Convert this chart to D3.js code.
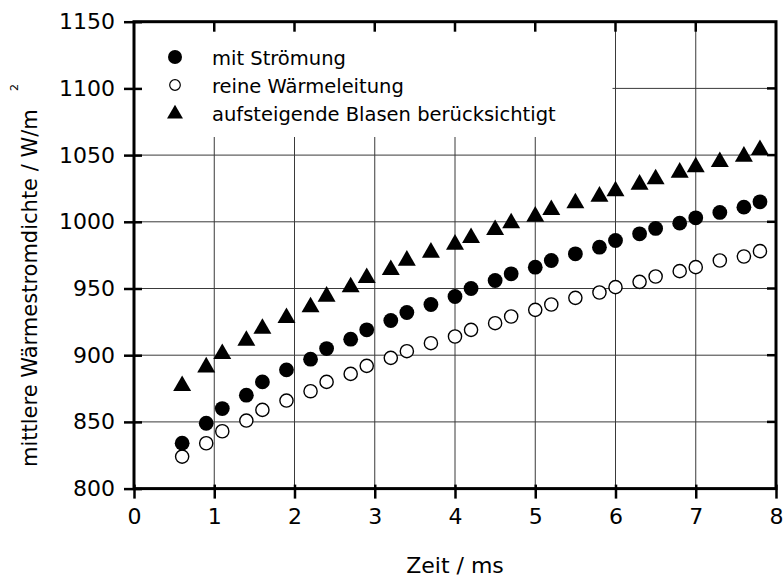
<!DOCTYPE html>
<html>
<head>
<meta charset="utf-8">
<script src="https://cdn.jsdelivr.net/npm/d3@7"></script>
<style>
  body { margin: 0; background: #fff; }
  text { font-family: "DejaVu Sans", Arial, sans-serif; fill: #000; }
</style>
</head>
<body>
<script>
// Werte
var zeit = [0.6, 0.9, 1.1, 1.4, 1.6, 1.9, 2.2, 2.4, 2.7, 2.9, 3.2, 3.4, 3.7, 4.0, 4.2, 4.5, 4.7, 5.0, 5.2, 5.5, 5.8, 6.0, 6.3, 6.5, 6.8, 7.0, 7.3, 7.6, 7.8];
var mitStroemung = [834, 849, 860, 870, 880, 889, 897, 905, 912, 919, 926, 932, 938, 944, 950, 956, 961, 966, 971, 976, 981, 986, 991, 995, 999, 1003, 1007, 1011, 1015];
var reineLeitung = [824, 834, 843, 851, 859, 866, 873, 880, 886, 892, 898, 903, 909, 914, 919, 924, 929, 934, 938, 943, 947, 951, 955, 959, 963, 966, 971, 974, 978];
var blasen = [877, 891, 901, 911, 920, 928, 936, 944, 951, 958, 964, 971, 977, 983, 988, 994, 999, 1004, 1009, 1014, 1019, 1023, 1028, 1032, 1037, 1041, 1045, 1049, 1054];

var seriesNames = ["mit Strömung", "reine Wärmeleitung", "aufsteigende Blasen berücksichtigt"];
var xTicks = [0, 1, 2, 3, 4, 5, 6, 7, 8];
var yTicks = [800, 850, 900, 950, 1000, 1050, 1100, 1150];

var width = 784, height = 578;
// "top" is taken by window.top, so plot edges get their own names
var plotLeft = 134, plotRight = 776, plotTop = 21.7, plotBottom = 488.6;

var x = d3.scaleLinear().domain([0, 8]).range([plotLeft, plotRight]);
var y = d3.scaleLinear().domain([800, 1150]).range([plotBottom, plotTop]);

var svg = d3.select("body").append("svg")
    .attr("width", width)
    .attr("height", height);

// grid
var grid = svg.append("g").attr("class", "grid")
    .attr("stroke", "#3a3a3a")
    .attr("stroke-width", 1);
grid.selectAll("line.v")
    .data(xTicks.slice(1, -1))
    .enter().append("line")
    .attr("class", "v")
    .attr("x1", function(d){return x(d);})
    .attr("x2", function(d){return x(d);})
    .attr("y1", plotTop)
    .attr("y2", plotBottom);
grid.selectAll("line.h")
    .data(yTicks.slice(1, -1))
    .enter().append("line")
    .attr("class", "h")
    .attr("x1", plotLeft)
    .attr("x2", plotRight)
    .attr("y1", function(d){return y(d);})
    .attr("y2", function(d){return y(d);});

// legend background hides the grid behind it
svg.append("rect")
    .attr("x", plotLeft + 1)
    .attr("y", plotTop + 1)
    .attr("width", x(6) - 3 - plotLeft - 1)
    .attr("height", 137 - plotTop - 1)
    .attr("fill", "#fff");

// data points
var triangle = d3.symbol().type(d3.symbolTriangle).size(140);

var pts1 = zeit.map(function(t, i){return [t, mitStroemung[i]];});
var pts2 = zeit.map(function(t, i){return [t, reineLeitung[i]];});
var pts3 = zeit.map(function(t, i){return [t, blasen[i]];});

svg.append("g").selectAll("circle")
    .data(pts2)
    .enter().append("circle")
    .attr("cx", function(d){return x(d[0]);})
    .attr("cy", function(d){return y(d[1]);})
    .attr("r", 6.6)
    .attr("fill", "#fff")
    .attr("stroke", "#000")
    .attr("stroke-width", 1.4);

svg.append("g").selectAll("circle")
    .data(pts1)
    .enter().append("circle")
    .attr("cx", function(d){return x(d[0]);})
    .attr("cy", function(d){return y(d[1]);})
    .attr("r", 7.4)
    .attr("fill", "#000");

svg.append("g").selectAll("path")
    .data(pts3)
    .enter().append("path")
    .attr("d", triangle)
    .attr("transform", function(d){return "translate(" + x(d[0]) + "," + y(d[1]) + ")";})
    .attr("fill", "#000");

// axes
var xAxis = d3.axisBottom(x).tickValues(xTicks).tickSize(10).tickPadding(10).tickFormat(d3.format("d"));
var yAxis = d3.axisLeft(y).tickValues(yTicks).tickSize(10).tickPadding(9).tickFormat(d3.format("d"));

var gx = svg.append("g")
    .attr("transform", "translate(0," + plotBottom + ")")
    .call(xAxis);
gx.selectAll(".tick line").attr("y1", -4).attr("stroke-width", 2.5);

var gy = svg.append("g")
    .attr("transform", "translate(" + plotLeft + ",0)")
    .call(yAxis);
gy.selectAll(".tick line").attr("x1", 8).attr("stroke-width", 2.5);

svg.selectAll(".domain").remove();
svg.selectAll(".tick text")
    .style("font-family", "DejaVu Sans, Arial, sans-serif")
    .style("font-size", "22px")
    .attr("fill", "#000");

// inner ticks on top and right
svg.append("g").selectAll("line")
    .data(xTicks.slice(1, -1))
    .enter().append("line")
    .attr("x1", function(d){return x(d);})
    .attr("x2", function(d){return x(d);})
    .attr("y1", plotTop)
    .attr("y2", plotTop + 10)
    .attr("stroke", "#000")
    .attr("stroke-width", 2.5);
svg.append("g").selectAll("line")
    .data(yTicks.slice(1, -1))
    .enter().append("line")
    .attr("x1", plotRight - 9)
    .attr("x2", plotRight)
    .attr("y1", function(d){return y(d);})
    .attr("y2", function(d){return y(d);})
    .attr("stroke", "#000")
    .attr("stroke-width", 2.5);

// frame
svg.append("rect")
    .attr("x", plotLeft)
    .attr("y", plotTop)
    .attr("width", plotRight - plotLeft)
    .attr("height", plotBottom - plotTop)
    .attr("fill", "none")
    .attr("stroke", "#000")
    .attr("stroke-width", 3);

// legend
var legend = svg.append("g").attr("transform", "translate(175,57)");
var rowH = 28;
legend.append("circle").attr("cx", 0).attr("cy", 0).attr("r", 7).attr("fill", "#000");
legend.append("circle").attr("cx", 0).attr("cy", rowH).attr("r", 5.3)
    .attr("fill", "#fff").attr("stroke", "#000").attr("stroke-width", 1.2);
legend.append("path")
    .attr("d", d3.symbol().type(d3.symbolTriangle).size(110))
    .attr("transform", "translate(0," + (2 * rowH + 1) + ")")
    .attr("fill", "#000");
legend.selectAll("text")
    .data(seriesNames)
    .enter().append("text")
    .attr("x", 37)
    .attr("y", function(d, i){return i * rowH + 8;})
    .style("font-size", "19.5px")
    .text(function(d){return d;});

// axis titles
svg.append("text")
    .attr("x", (plotLeft + plotRight) / 2)
    .attr("y", 573)
    .attr("text-anchor", "middle")
    .style("font-size", "22px")
    .text("Zeit / ms");

svg.append("text")
    .attr("transform", "translate(37,467) rotate(-90)")
    .attr("text-anchor", "start")
    .style("font-size", "21px")
    .text("mittlere Wärmestromdichte / W/m");

svg.append("text")
    .attr("transform", "translate(18,91) rotate(-90)")
    .style("font-size", "11px")
    .text("2");
</script>
</body>
</html>
